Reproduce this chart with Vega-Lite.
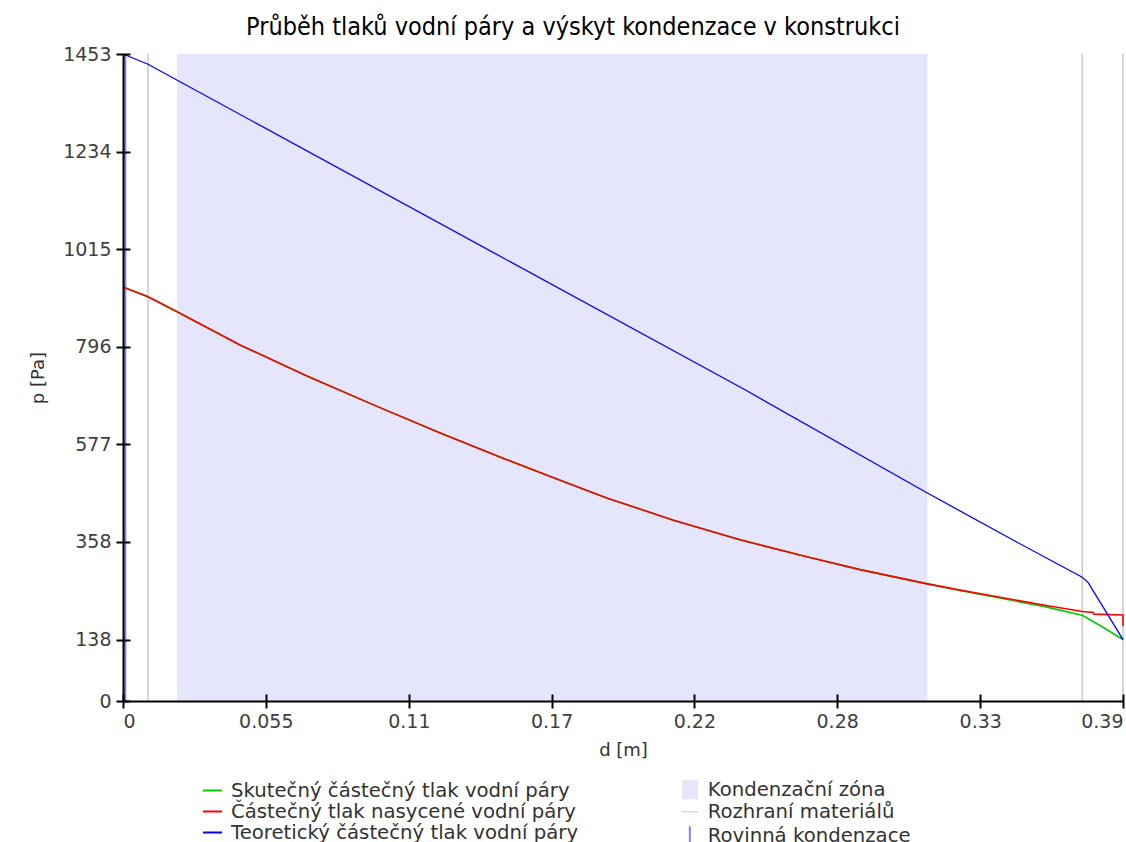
{
  "$schema": "https://vega.github.io/schema/vega-lite/v6.json",
  "width": 1000,
  "height": 647,
  "autosize": "none",
  "padding": {"left": 123, "top": 54, "right": 3, "bottom": 141},
  "background": "white",
  "config": {
    "view": {"stroke": null},
    "font": "DejaVu Sans",
    "axis": {
      "grid": false,
      "domainColor": "#000000",
      "domainWidth": 2,
      "tickColor": "#000000",
      "tickWidth": 2,
      "tickSize": 7,
      "labelFont": "DejaVu Sans",
      "labelFontSize": 19,
      "labelColor": "#404040",
      "titleFont": "DejaVu Sans",
      "titleFontSize": 18,
      "titleFontWeight": "normal",
      "titleColor": "#333333"
    }
  },
  "title": {
    "text": "Průběh tlaků vodní páry a výskyt kondenzace v konstrukci",
    "font": "DejaVu Sans Condensed",
    "fontSize": 25,
    "fontWeight": "normal",
    "color": "#000000",
    "anchor": "middle",
    "dx": -50,
    "offset": -15,
    "baseline": "alphabetic"
  },
  "datasets": {
    "zone": [{"x1": 0.02095, "x2": 0.3121, "kind": "Kondenzační zóna"}],
    "iface": [
      {"d": 0.0097, "kind": "Rozhraní materiálů"},
      {"d": 0.3722, "kind": "Rozhraní materiálů"},
      {"d": 0.388, "kind": "Rozhraní materiálů"}
    ],
    "plane": [{"d": 0.0008, "kind": "Rovinná kondenzace"}],
    "green": [
      {"d": 0, "p": 930, "o": 0, "s": "Skutečný částečný tlak vodní páry"},
      {"d": 0.0097, "p": 908, "o": 1, "s": "Skutečný částečný tlak vodní páry"},
      {"d": 0.021, "p": 874, "o": 2, "s": "Skutečný částečný tlak vodní páry"},
      {"d": 0.0456, "p": 799, "o": 3, "s": "Skutečný částečný tlak vodní páry"},
      {"d": 0.0714, "p": 730, "o": 4, "s": "Skutečný částečný tlak vodní páry"},
      {"d": 0.0972, "p": 665, "o": 5, "s": "Skutečný částečný tlak vodní páry"},
      {"d": 0.1231, "p": 602, "o": 6, "s": "Skutečný částečný tlak vodní páry"},
      {"d": 0.1489, "p": 542, "o": 7, "s": "Skutečný částečný tlak vodní páry"},
      {"d": 0.1696, "p": 496, "o": 8, "s": "Skutečný částečný tlak vodní páry"},
      {"d": 0.1877, "p": 456, "o": 9, "s": "Skutečný částečný tlak vodní páry"},
      {"d": 0.2136, "p": 406, "o": 10, "s": "Skutečný částečný tlak vodní páry"},
      {"d": 0.2394, "p": 362, "o": 11, "s": "Skutečný částečný tlak vodní páry"},
      {"d": 0.2653, "p": 324, "o": 12, "s": "Skutečný částečný tlak vodní páry"},
      {"d": 0.286, "p": 295, "o": 13, "s": "Skutečný částečný tlak vodní páry"},
      {"d": 0.3121, "p": 263, "o": 14, "s": "Skutečný částečný tlak vodní páry"},
      {"d": 0.3248, "p": 248, "o": 15, "s": "Skutečný částečný tlak vodní páry"},
      {"d": 0.3577, "p": 212, "o": 16, "s": "Skutečný částečný tlak vodní páry"},
      {"d": 0.3724, "p": 192, "o": 17, "s": "Skutečný částečný tlak vodní páry"},
      {"d": 0.3804, "p": 165, "o": 18, "s": "Skutečný částečný tlak vodní páry"},
      {"d": 0.388, "p": 138, "o": 19, "s": "Skutečný částečný tlak vodní páry"}
    ],
    "red": [
      {"d": 0, "p": 930, "o": 0, "s": "Částečný tlak nasycené vodní páry"},
      {"d": 0.0097, "p": 908, "o": 1, "s": "Částečný tlak nasycené vodní páry"},
      {"d": 0.021, "p": 874, "o": 2, "s": "Částečný tlak nasycené vodní páry"},
      {"d": 0.0456, "p": 799, "o": 3, "s": "Částečný tlak nasycené vodní páry"},
      {"d": 0.0714, "p": 730, "o": 4, "s": "Částečný tlak nasycené vodní páry"},
      {"d": 0.0972, "p": 665, "o": 5, "s": "Částečný tlak nasycené vodní páry"},
      {"d": 0.1231, "p": 602, "o": 6, "s": "Částečný tlak nasycené vodní páry"},
      {"d": 0.1489, "p": 542, "o": 7, "s": "Částečný tlak nasycené vodní páry"},
      {"d": 0.1696, "p": 496, "o": 8, "s": "Částečný tlak nasycené vodní páry"},
      {"d": 0.1877, "p": 456, "o": 9, "s": "Částečný tlak nasycené vodní páry"},
      {"d": 0.2136, "p": 406, "o": 10, "s": "Částečný tlak nasycené vodní páry"},
      {"d": 0.2394, "p": 362, "o": 11, "s": "Částečný tlak nasycené vodní páry"},
      {"d": 0.2653, "p": 324, "o": 12, "s": "Částečný tlak nasycené vodní páry"},
      {"d": 0.286, "p": 295, "o": 13, "s": "Částečný tlak nasycené vodní páry"},
      {"d": 0.3121, "p": 263, "o": 14, "s": "Částečný tlak nasycené vodní páry"},
      {"d": 0.3248, "p": 249, "o": 15, "s": "Částečný tlak nasycené vodní páry"},
      {"d": 0.3577, "p": 215, "o": 16, "s": "Částečný tlak nasycené vodní páry"},
      {"d": 0.3722, "p": 201, "o": 17, "s": "Částečný tlak nasycené vodní páry"},
      {"d": 0.3765, "p": 199, "o": 18, "s": "Částečný tlak nasycené vodní páry"},
      {"d": 0.3767, "p": 195, "o": 19, "s": "Částečný tlak nasycené vodní páry"},
      {"d": 0.388, "p": 193, "o": 20, "s": "Částečný tlak nasycené vodní páry"},
      {"d": 0.388, "p": 168, "o": 21, "s": "Částečný tlak nasycené vodní páry"}
    ],
    "blue": [
      {"d": 0, "p": 1453, "o": 0, "s": "Teoretický částečný tlak vodní páry"},
      {"d": 0.0097, "p": 1430, "o": 1, "s": "Teoretický částečný tlak vodní páry"},
      {"d": 0.241, "p": 700, "o": 2, "s": "Teoretický částečný tlak vodní páry"},
      {"d": 0.3121, "p": 467, "o": 3, "s": "Teoretický částečný tlak vodní páry"},
      {"d": 0.3455, "p": 361, "o": 4, "s": "Teoretický částečný tlak vodní páry"},
      {"d": 0.3722, "p": 278, "o": 5, "s": "Teoretický částečný tlak vodní páry"},
      {"d": 0.3745, "p": 266, "o": 6, "s": "Teoretický částečný tlak vodní páry"},
      {"d": 0.388, "p": 138, "o": 7, "s": "Teoretický částečný tlak vodní páry"}
    ]
  },
  "layer": [
    {
      "encoding": {
        "color": {
          "field": "kind",
          "type": "nominal",
          "scale": {
            "domain": ["Kondenzační zóna", "Rozhraní materiálů", "Rovinná kondenzace"],
            "range": ["#e5e5fb", "#c8c8c8", "#8080f0"]
          },
          "legend": {
            "orient": "none",
            "legendX": 557,
            "legendY": 726,
            "title": null,
            "padding": 0,
            "symbolSize": 400,
            "labelFont": "DejaVu Sans",
            "labelFontSize": 19.7,
            "labelColor": "#333333",
            "labelOffset": 8,
            "labelLimit": 500,
            "rowPadding": 0,
            "encode": {
              "symbols": {
                "update": {
                  "shape": {"signal": "datum.value === 'Kondenzační zóna' ? 'M-0.75,-0.9H0.75V0.9H-0.75Z' : datum.value === 'Rozhraní materiálů' ? 'M-0.85,0H0.85' : 'M0,-0.95V0.95'"},
                  "fill": {"signal": "datum.value === 'Kondenzační zóna' ? '#e5e5fb' : 'transparent'"},
                  "stroke": {"signal": "datum.value === 'Kondenzační zóna' ? 'transparent' : datum.value === 'Rozhraní materiálů' ? '#b0b0b0' : '#8080f0'"},
                  "strokeWidth": {"signal": "datum.value === 'Rovinná kondenzace' ? 2 : 1"},
                  "opacity": {"value": 1}
                }
              }
            }
          }
        }
      },
      "layer": [
        {
          "data": {"name": "zone"},
          "mark": {"type": "rect", "opacity": 1},
          "encoding": {
            "x": {
              "field": "x1",
              "type": "quantitative",
              "axis": {
                "orient": "bottom",
                "zindex": 2,
                "title": null,
                "labels": false,
                "domain": false,
                "offset": -7,
                "tickSize": 7,
                "values": [0, 0.0554, 0.1109, 0.1663, 0.2217, 0.2771, 0.3326, 0.388]
              }
            },
            "x2": {"field": "x2"}
          }
        },
        {
          "data": {"name": "iface"},
          "mark": {"type": "rule", "strokeWidth": 1.5},
          "encoding": {
            "x": {"field": "d", "type": "quantitative"}
          }
        },
        {
          "data": {"name": "plane"},
          "mark": {"type": "rule", "strokeWidth": 2.5},
          "encoding": {
            "x": {"field": "d", "type": "quantitative"}
          }
        }
      ]
    },
    {
      "encoding": {
        "x": {
          "field": "d",
          "type": "quantitative",
          "scale": {"domain": [0, 0.388], "nice": false, "zero": false},
          "axis": {
            "orient": "bottom",
            "zindex": 2,
            "title": "d [m]",
            "values": [0, 0.0554, 0.1109, 0.1663, 0.2217, 0.2771, 0.3326, 0.388],
            "format": ".2~r",
            "labelPadding": 4,
            "titlePadding": 10
          }
        },
        "y": {
          "field": "p",
          "type": "quantitative",
          "scale": {"domain": [0, 1453], "nice": false, "zero": false}
        },
        "order": {"field": "o", "type": "quantitative"},
        "color": {
          "field": "s",
          "type": "nominal",
          "scale": {
            "domain": ["Skutečný částečný tlak vodní páry", "Částečný tlak nasycené vodní páry", "Teoretický částečný tlak vodní páry"],
            "range": ["#00cc00", "#ff0000", "#0000ff"]
          },
          "legend": {
            "orient": "none",
            "legendX": 79,
            "legendY": 726,
            "title": null,
            "padding": 0,
            "symbolType": "stroke",
            "symbolSize": 361,
            "symbolStrokeWidth": 2,
            "labelFont": "DejaVu Sans",
            "labelFontSize": 19.7,
            "labelColor": "#333333",
            "labelOffset": 8,
            "labelLimit": 500,
            "rowPadding": 0
          }
        }
      },
      "layer": [
        {
          "data": {"name": "green"},
          "mark": {"type": "line", "strokeWidth": 1.6},
          "encoding": {
            "y": {
              "field": "p",
              "type": "quantitative",
              "axis": {
                "orient": "left",
                "zindex": 2,
                "title": "p [Pa]",
                "values": [0, 138, 358, 577, 796, 1015, 1234, 1453],
                "format": "d",
                "labelPadding": 5,
                "titlePadding": 15
              }
            }
          }
        },
        {
          "data": {"name": "red"},
          "mark": {"type": "line", "strokeWidth": 1.6},
          "encoding": {
            "y": {
              "field": "p",
              "type": "quantitative",
              "axis": {
                "orient": "left",
                "zindex": 2,
                "title": null,
                "labels": false,
                "domain": false,
                "offset": -7,
                "tickSize": 7,
                "values": [0, 138, 358, 577, 796, 1015, 1234, 1453]
              }
            }
          }
        },
        {
          "data": {"name": "blue"},
          "mark": {"type": "line", "strokeWidth": 1.3},
          "encoding": {
            "y": {"field": "p", "type": "quantitative", "axis": null}
          }
        }
      ],
      "resolve": {"axis": {"y": "independent"}}
    }
  ],
  "resolve": {"scale": {"color": "independent"}, "axis": {"x": "independent"}}
}
